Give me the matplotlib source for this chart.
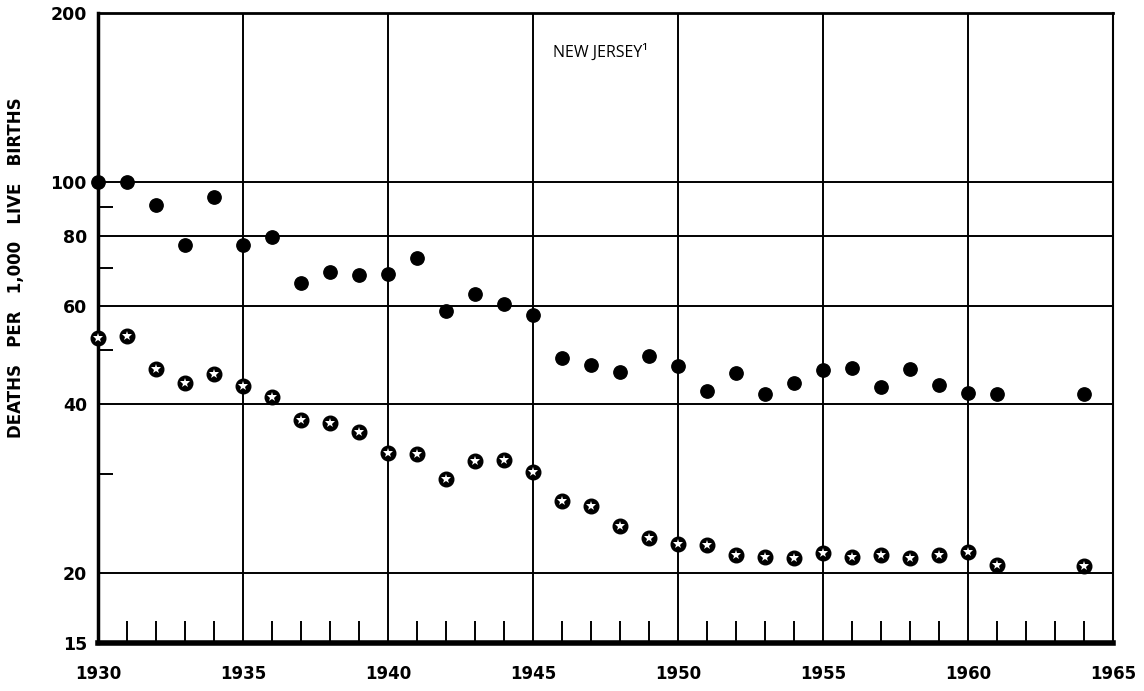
import matplotlib
matplotlib.use("Agg")
import matplotlib.pyplot as plt
from matplotlib.ticker import FixedLocator, NullFormatter

# Data (deaths per 1,000 live births)
years_upper = [1930, 1931, 1932, 1933, 1934, 1935, 1936, 1937, 1938, 1939,
               1940, 1941, 1942, 1943, 1944, 1945, 1946, 1947, 1948, 1949,
               1950, 1951, 1952, 1953, 1954, 1955, 1956, 1957, 1958, 1959,
               1960, 1961, 1964]
rates_upper = [100, 100, 91, 77, 94, 77, 79.5, 66, 69, 68,
               68.5, 73, 58.7, 63, 60.5, 57.7, 48.5, 47, 45.7, 48.8,
               46.8, 42.2, 45.6, 41.8, 43.6, 46.1, 46.4, 43.0, 46.3, 43.3,
               42.0, 41.7, 41.8]

years_lower = [1930, 1931, 1932, 1933, 1934, 1935, 1936, 1937, 1938, 1939,
               1940, 1941, 1942, 1943, 1944, 1945, 1946, 1947, 1948, 1949,
               1950, 1951, 1952, 1953, 1954, 1955, 1956, 1957, 1958, 1959,
               1960, 1961, 1964]
rates_lower = [52.5, 53, 46.3, 43.6, 45.3, 43.1, 41.2, 37.5, 37.1, 35.7,
               32.8, 32.6, 29.4, 31.7, 31.8, 30.3, 26.9, 26.3, 24.3, 23.1,
               22.5, 22.4, 21.5, 21.4, 21.3, 21.7, 21.4, 21.5, 21.3, 21.5,
               21.8, 20.7, 20.6]

x_ticks = [1930, 1935, 1940, 1945, 1950, 1955, 1960, 1965]
y_ticks = [15, 20, 40, 60, 80, 100, 200]
y_grid = [20, 40, 60, 80, 100]
y_minor = [30, 50, 70, 90]
x_minor = list(range(1931, 1965))

fig = plt.figure(figsize=(11.44, 6.91), dpi=100)
ax = fig.add_axes([98 / 1144, 1 - 643 / 691, (1113 - 98) / 1144, (643 - 13) / 691])

ax.set_yscale("log")
ax.set_xlim(1930, 1965)
ax.set_ylim(15, 200)

# grid lines
for yv in y_grid:
    ax.axhline(yv, color="black", lw=1.4, zorder=1)
for xv in x_ticks[1:-1]:
    ax.axvline(xv, color="black", lw=1.4, zorder=1)

# series
ax.plot(years_upper, rates_upper, linestyle="none", marker="o", ms=9.6,
        color="black", zorder=3, clip_on=False)
ax.plot(years_lower, rates_lower, linestyle="none", marker="o", ms=10.5,
        color="black", zorder=3, clip_on=False)
ax.plot(years_lower, rates_lower, linestyle="none", marker="*", ms=7.5,
        color="white", markeredgewidth=0, zorder=4, clip_on=False)

# ticks
ax.xaxis.set_major_locator(FixedLocator(x_ticks))
ax.set_xticklabels([str(v) for v in x_ticks])
ax.xaxis.set_minor_locator(FixedLocator(x_minor))
ax.xaxis.set_minor_formatter(NullFormatter())
ax.yaxis.set_major_locator(FixedLocator(y_ticks))
ax.set_yticklabels([str(v) for v in y_ticks])
ax.yaxis.set_minor_locator(FixedLocator(y_minor))
ax.yaxis.set_minor_formatter(NullFormatter())

ax.tick_params(axis="x", which="major", length=0, pad=16, labelsize=12)
ax.tick_params(axis="y", which="major", length=0, pad=8, labelsize=12.5)
ax.tick_params(axis="x", which="minor", direction="in", length=16, width=1.4)
ax.tick_params(axis="y", which="minor", direction="in", length=11, width=1.4)
for lab in ax.get_xticklabels() + ax.get_yticklabels():
    lab.set_fontweight("bold")

ax.spines["left"].set_linewidth(2.5)
ax.spines["bottom"].set_linewidth(4)
ax.spines["top"].set_linewidth(2)
ax.spines["right"].set_linewidth(1.5)

ax.set_ylabel("DEATHS   PER   1,000   LIVE   BIRTHS", fontsize=12,
              fontweight="bold")
ax.yaxis.set_label_coords(-0.072, 0.595)

ax.text(0.448, 0.938, "NEW JERSEY\u00b9", transform=ax.transAxes, ha="left",
        va="center", fontsize=11.5, family="Open Sans")

fig.savefig("out.png", dpi=100)
